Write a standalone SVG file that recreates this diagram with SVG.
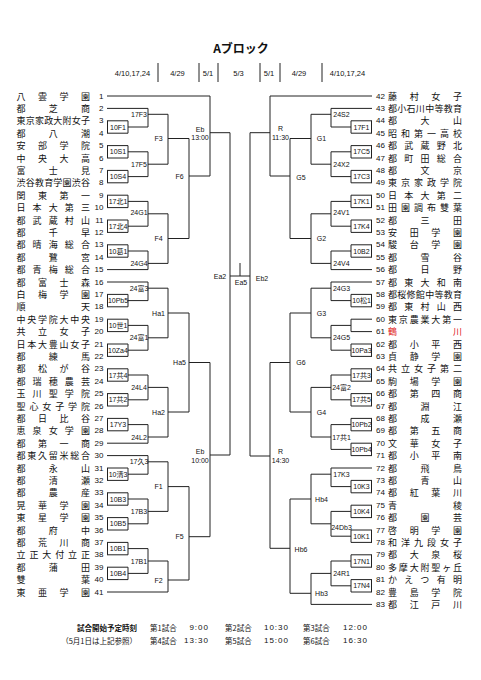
<svg xmlns="http://www.w3.org/2000/svg" width="481" height="680" viewBox="0 0 481 680">
<style>
.ln{fill:none;stroke:#222;stroke-width:1}
.nm{font-family:"Noto Sans CJK JP",sans-serif;font-size:9px;fill:#111;dominant-baseline:central}
.no{font-family:"Liberation Sans","Noto Sans CJK JP",sans-serif;font-size:8px;fill:#111;dominant-baseline:central}
.nl{text-anchor:end}
.lb{font-family:"Liberation Sans","Noto Sans CJK JP",sans-serif;font-size:7px;fill:#111;text-anchor:middle;dominant-baseline:central}
.hd{font-family:"Liberation Sans","Noto Sans CJK JP",sans-serif;font-size:7.5px;fill:#111;text-anchor:middle;dominant-baseline:central}
.ft{font-family:"Noto Sans CJK JP",sans-serif;font-size:7.5px;fill:#111;dominant-baseline:central}
.tm{font-family:"Liberation Sans",sans-serif;font-size:8px;fill:#111;dominant-baseline:central;text-anchor:end;letter-spacing:1px}
.red{fill:#e0201a}
</style>
<rect width="481" height="680" fill="#fff"/>
<g id="header">
<text x="241" y="53" font-family="'Noto Sans CJK JP',sans-serif" font-size="12" font-weight="bold" text-anchor="middle" fill="#111">Aブロック</text>
<text class="hd" x="132.5" y="73">4/10,17,24</text>
<text class="hd" x="177.5" y="73">4/29</text>
<text class="hd" x="208" y="73">5/1</text>
<text class="hd" x="238.5" y="73">5/3</text>
<text class="hd" x="269" y="73">5/1</text>
<text class="hd" x="299" y="73">4/29</text>
<text class="hd" x="347.5" y="73">4/10,17,24</text>
<path class="ln" d="M158,63V82M199,63V82M218,63V82M260,63V82M280,63V82M322,63V82" stroke-width="0.8"/>
</g>
<g id="connectors">
<path class="ln" d="M107,96H210M107,108.4H148M107,120.8H128M107,133.2H128M107,145.6H128M107,158H128M107,170.4H128M107,182.8H128M107,195.2H128M107,207.6H128M107,220H128M107,232.4H128M107,244.8H128M107,257.2H128M107,269.6H148M107,282H148M107,294.4H128M107,306.8H128M107,319.2H128M107,331.6H128M107,344H128M107,356.4H128M107,368.8H128M107,381.2H128M107,393.6H128M107,406H128M107,418.4H128M107,430.8H128M107,443.2H148M107,455.6H148M107,468H128M107,480.4H128M107,492.8H128M107,505.2H128M107,517.6H128M107,530H128M107,542.4H128M107,554.8H128M107,567.2H128M107,579.6H128M107,592H168"/>
<path class="ln" d="M107.5,120.8V133.2M107.5,145.6V158M107.5,170.4V182.8M107.5,195.2V207.6M107.5,220V232.4M107.5,244.8V257.2M107.5,294.4V306.8M107.5,319.2V331.6M107.5,344V356.4M107.5,368.8V381.2M107.5,393.6V406M107.5,418.4V430.8M107.5,468V480.4M107.5,492.8V505.2M107.5,517.6V530M107.5,542.4V554.8M107.5,567.2V579.6"/>
<path class="ln" d="M128,120.8V133.2M128,127H148M128,145.6V158M128,151.8H148M128,170.4V182.8M128,176.6H148M128,195.2V207.6M128,201.4H148M128,220V232.4M128,226.2H148M128,244.8V257.2M128,251H148M128,294.4V306.8M128,300.6H148M128,319.2V331.6M128,325.4H148M128,344V356.4M128,350.2H148M128,368.8V381.2M128,375H148M128,393.6V406M128,399.8H148M128,418.4V430.8M128,424.6H148M128,468V480.4M128,474.2H148M128,492.8V505.2M128,499H148M128,517.6V530M128,523.8H148M128,542.4V554.8M128,548.6H148M128,567.2V579.6M128,573.4H148"/>
<path class="ln" d="M148,108.4V127M148,114.3H168M148,151.8V176.6M148,164.2H168M148,201.4V226.2M148,213.8H168M148,251V269.6M148,263.4H168M148,282V300.6M148,288.2H168M148,325.4V350.2M148,337.8H168M148,375V399.8M148,387.4H168M148,424.6V443.2M148,437H168M148,455.6V474.2M148,461.8H168M148,499V523.8M148,511.4H168M148,548.6V573.4M148,561H168"/>
<path class="ln" d="M168,114.3V164.2M168,138.5H189M168,213.8V263.4M168,238.5H189M168,288.2V337.8M168,313H189M168,387.4V437M168,412H189M168,461.8V511.4M168,486.6H189M168,561V592M168,580H189"/>
<path class="ln" d="M189,138.5V238.5M189,176H210M189,313V412M189,362.5H210M189,486.6V580M189,536.7H210"/>
<path class="ln" d="M210,96V176M210,132.7H230M210,362.5V536.7M210,455H230M230,132.7V455M230,276H250M240,263V276"/>
<path class="ln" d="M372,96H270M372,108.4H331M372,120.8H351M372,133.2H351M372,145.6H351M372,158H351M372,170.4H351M372,182.8H351M372,195.2H351M372,207.6H351M372,220H351M372,232.4H351M372,244.8H351M372,257.2H351M372,269.6H331M372,282H331M372,294.4H351M372,306.8H351M372,319.2H351M372,331.6H351M372,344H351M372,356.4H351M372,368.8H351M372,381.2H351M372,393.6H351M372,406H351M372,418.4H351M372,430.8H351M372,443.2H351M372,455.6H351M372,468H331M372,480.4H351M372,492.8H351M372,505.2H351M372,517.6H351M372,530H351M372,542.4H351M372,554.8H351M372,567.2H351M372,579.6H351M372,592H351M372,604.4H311"/>
<path class="ln" d="M371.5,120.8V133.2M371.5,145.6V158M371.5,170.4V182.8M371.5,195.2V207.6M371.5,220V232.4M371.5,244.8V257.2M371.5,294.4V306.8M371.5,344V356.4M371.5,368.8V381.2M371.5,393.6V406M371.5,418.4V430.8M371.5,443.2V455.6M371.5,480.4V492.8M371.5,505.2V517.6M371.5,530V542.4M371.5,554.8V567.2M371.5,579.6V592"/>
<path class="ln" d="M351,120.8V133.2M351,127H331M351,145.6V158M351,151.8H331M351,170.4V182.8M351,176.6H331M351,195.2V207.6M351,201.4H331M351,220V232.4M351,226.2H331M351,244.8V257.2M351,251H331M351,294.4V306.8M351,300.6H331M351,319.2V331.6M351,325.4H331M351,344V356.4M351,350.2H331M351,368.8V381.2M351,375H331M351,393.6V406M351,399.8H331M351,418.4V430.8M351,424.6H331M351,443.2V455.6M351,449.4H331M351,480.4V492.8M351,486.6H331M351,505.2V517.6M351,511.4H331M351,530V542.4M351,536.2H331M351,554.8V567.2M351,561H331M351,579.6V592M351,585.8H331"/>
<path class="ln" d="M331,108.4V127M331,114.3H311M331,151.8V176.6M331,164.2H311M331,201.4V226.2M331,213.8H311M331,251V269.6M331,263.4H311M331,282V300.6M331,288.2H311M331,325.4V350.2M331,337.8H311M331,375V399.8M331,387.4H311M331,424.6V449.4M331,437H311M331,468V486.6M331,474.2H311M331,511.4V536.2M331,523.8H311M331,561V585.8M331,573.4H311"/>
<path class="ln" d="M311,114.3V164.2M311,138.5H290M311,213.8V263.4M311,238.5H290M311,288.2V337.8M311,313H290M311,387.4V437M311,412H290M311,474.2V523.8M311,499H290M311,573.4V604.4M311,593.3H290"/>
<path class="ln" d="M290,138.5V238.5M290,176H270M290,313V412M290,362.5H270M290,499V593.3M290,548.3H270"/>
<path class="ln" d="M270,96V176M270,132.7H250M270,362.5V548.3M270,456H250M250,132.7V456"/>
</g>
<g id="match-labels">
<g id="m-left-r1">
<text class="lb" x="118" y="127">10F1</text><text class="lb" x="118" y="151.8">10S1</text><text class="lb" x="118" y="176.6">10S4</text><text class="lb" x="118" y="201.4">17北1</text><text class="lb" x="118" y="226.2">17北4</text><text class="lb" x="118" y="251">10葛1</text><text class="lb" x="118" y="300.6">10Pb5</text><text class="lb" x="118" y="325.4">10世1</text><text class="lb" x="118" y="350.2">10Za4</text><text class="lb" x="118" y="375">17共4</text><text class="lb" x="118" y="399.8">17共2</text><text class="lb" x="118" y="424.6">17Y3</text><text class="lb" x="118" y="474.2">10清3</text><text class="lb" x="118" y="499">10B3</text><text class="lb" x="118" y="523.8">10B5</text><text class="lb" x="118" y="548.6">10B1</text><text class="lb" x="118" y="573.4">10B4</text>
</g>
<g id="m-left-r2">
<text class="lb" x="139" y="114.3">17F3</text><text class="lb" x="139" y="164.2">17F5</text><text class="lb" x="139" y="212">24G1</text><text class="lb" x="139" y="263.4">24G4</text><text class="lb" x="139" y="288.2">24富3</text><text class="lb" x="139" y="337.8">24富1</text><text class="lb" x="139" y="387.4">24L4</text><text class="lb" x="139" y="437">24L2</text><text class="lb" x="139" y="461.8">17久3</text><text class="lb" x="139" y="511.4">17B3</text><text class="lb" x="139" y="561">17B1</text>
</g>
<g id="m-left-r3">
<text class="lb" x="158.5" y="138.5">F3</text><text class="lb" x="158.5" y="238.5">F4</text><text class="lb" x="158.5" y="313">Ha1</text><text class="lb" x="158.5" y="412">Ha2</text><text class="lb" x="158.5" y="486.6">F1</text><text class="lb" x="158.5" y="580">F2</text>
</g>
<g id="m-left-r4">
<text class="lb" x="179.5" y="176">F6</text><text class="lb" x="179.5" y="362.5">Ha5</text><text class="lb" x="179.5" y="536.7">F5</text>
</g>
<g id="m-left-r5">
<text class="lb" x="200" y="129">Eb</text><text class="lb" x="200" y="137.5">13:00</text>
<text class="lb" x="200" y="451.5">Eb</text><text class="lb" x="200" y="460">10:00</text>
</g>
<g id="m-center">
<text class="lb" x="220" y="276">Ea2</text>
<text class="lb" x="241" y="282.5">Ea5</text>
<text class="lb" x="262" y="278">Eb2</text>
</g>
<g id="m-right-r1">
<text class="lb" x="361.5" y="127">17F1</text><text class="lb" x="361.5" y="151.8">17C5</text><text class="lb" x="361.5" y="176.6">17C3</text><text class="lb" x="361.5" y="201.4">17K1</text><text class="lb" x="361.5" y="226.2">17K4</text><text class="lb" x="361.5" y="251">10B2</text><text class="lb" x="361.5" y="300.6">10松1</text><text class="lb" x="361.5" y="350.2">10Pa3</text><text class="lb" x="361.5" y="375">17共3</text><text class="lb" x="361.5" y="399.8">17共5</text><text class="lb" x="361.5" y="424.6">10Pb2</text><text class="lb" x="361.5" y="449.4">10Pb4</text><text class="lb" x="361.5" y="486.6">10K3</text><text class="lb" x="361.5" y="511.4">10K4</text><text class="lb" x="361.5" y="536.2">10K1</text><text class="lb" x="361.5" y="561">17N1</text><text class="lb" x="361.5" y="585.8">17N4</text>
</g>
<g id="m-right-r2">
<text class="lb" x="341.5" y="114.3">24S2</text><text class="lb" x="341.5" y="164.2">24X2</text><text class="lb" x="341.5" y="212">24V1</text><text class="lb" x="341.5" y="263.4">24V4</text><text class="lb" x="341.5" y="288.2">24G3</text><text class="lb" x="341.5" y="337.8">24G5</text><text class="lb" x="341.5" y="387.4">24富2</text><text class="lb" x="341.5" y="437">17共1</text><text class="lb" x="341.5" y="474.2">17K3</text><text class="lb" x="341.5" y="527">24Db3</text><text class="lb" x="341.5" y="573.4">24R1</text>
</g>
<g id="m-right-r3">
<text class="lb" x="321.5" y="138.5">G1</text><text class="lb" x="321.5" y="238.5">G2</text><text class="lb" x="321.5" y="313">G3</text><text class="lb" x="321.5" y="412">G4</text><text class="lb" x="321.5" y="499">Hb4</text><text class="lb" x="321.5" y="593.3">Hb3</text>
</g>
<g id="m-right-r4">
<text class="lb" x="301" y="177">G5</text><text class="lb" x="301" y="362.5">G6</text><text class="lb" x="301" y="549">Hb6</text>
</g>
<g id="m-right-r5">
<text class="lb" x="280.5" y="128.5">R</text><text class="lb" x="280.5" y="137.5">11:30</text>
<text class="lb" x="280.5" y="451.5">R</text><text class="lb" x="280.5" y="460">14:30</text>
</g>
</g>
<g id="teams-left">
<g id="t1"><text class="nm" x="16.5" y="96" textLength="73.5" lengthAdjust="spacing">八雲学園</text><text class="no nl" x="103.5" y="96">1</text></g>
<g id="t2"><text class="nm" x="16.5" y="108.4" textLength="73.5" lengthAdjust="spacing">都芝商</text><text class="no nl" x="103.5" y="108.4">2</text></g>
<g id="t3"><text class="nm" x="16.5" y="120.8" textLength="73.5" lengthAdjust="spacing">東京家政大附女子</text><text class="no nl" x="103.5" y="120.8">3</text></g>
<g id="t4"><text class="nm" x="16.5" y="133.2" textLength="73.5" lengthAdjust="spacing">都八潮</text><text class="no nl" x="103.5" y="133.2">4</text></g>
<g id="t5"><text class="nm" x="16.5" y="145.6" textLength="73.5" lengthAdjust="spacing">安部学院</text><text class="no nl" x="103.5" y="145.6">5</text></g>
<g id="t6"><text class="nm" x="16.5" y="158" textLength="73.5" lengthAdjust="spacing">中央大高</text><text class="no nl" x="103.5" y="158">6</text></g>
<g id="t7"><text class="nm" x="16.5" y="170.4" textLength="73.5" lengthAdjust="spacing">富士見</text><text class="no nl" x="103.5" y="170.4">7</text></g>
<g id="t8"><text class="nm" x="16.5" y="182.8" textLength="73.5" lengthAdjust="spacing">渋谷教育学園渋谷</text><text class="no nl" x="103.5" y="182.8">8</text></g>
<g id="t9"><text class="nm" x="16.5" y="195.2" textLength="73.5" lengthAdjust="spacing">関東第一</text><text class="no nl" x="103.5" y="195.2">9</text></g>
<g id="t10"><text class="nm" x="16.5" y="207.6" textLength="73.5" lengthAdjust="spacing">日本大第三</text><text class="no nl" x="103.5" y="207.6">10</text></g>
<g id="t11"><text class="nm" x="16.5" y="220" textLength="73.5" lengthAdjust="spacing">都武蔵村山</text><text class="no nl" x="103.5" y="220">11</text></g>
<g id="t12"><text class="nm" x="16.5" y="232.4" textLength="73.5" lengthAdjust="spacing">都千早</text><text class="no nl" x="103.5" y="232.4">12</text></g>
<g id="t13"><text class="nm" x="16.5" y="244.8" textLength="73.5" lengthAdjust="spacing">都晴海総合</text><text class="no nl" x="103.5" y="244.8">13</text></g>
<g id="t14"><text class="nm" x="16.5" y="257.2" textLength="73.5" lengthAdjust="spacing">都鷺宮</text><text class="no nl" x="103.5" y="257.2">14</text></g>
<g id="t15"><text class="nm" x="16.5" y="269.6" textLength="73.5" lengthAdjust="spacing">都青梅総合</text><text class="no nl" x="103.5" y="269.6">15</text></g>
<g id="t16"><text class="nm" x="16.5" y="282" textLength="73.5" lengthAdjust="spacing">都富士森</text><text class="no nl" x="103.5" y="282">16</text></g>
<g id="t17"><text class="nm" x="16.5" y="294.4" textLength="73.5" lengthAdjust="spacing">白梅学園</text><text class="no nl" x="103.5" y="294.4">17</text></g>
<g id="t18"><text class="nm" x="16.5" y="306.8" textLength="73.5" lengthAdjust="spacing">順天</text><text class="no nl" x="103.5" y="306.8">18</text></g>
<g id="t19"><text class="nm" x="16.5" y="319.2" textLength="73.5" lengthAdjust="spacing">中央学院大中央</text><text class="no nl" x="103.5" y="319.2">19</text></g>
<g id="t20"><text class="nm" x="16.5" y="331.6" textLength="73.5" lengthAdjust="spacing">共立女子</text><text class="no nl" x="103.5" y="331.6">20</text></g>
<g id="t21"><text class="nm" x="16.5" y="344" textLength="73.5" lengthAdjust="spacing">日本大豊山女子</text><text class="no nl" x="103.5" y="344">21</text></g>
<g id="t22"><text class="nm" x="16.5" y="356.4" textLength="73.5" lengthAdjust="spacing">都練馬</text><text class="no nl" x="103.5" y="356.4">22</text></g>
<g id="t23"><text class="nm" x="16.5" y="368.8" textLength="73.5" lengthAdjust="spacing">都松が谷</text><text class="no nl" x="103.5" y="368.8">23</text></g>
<g id="t24"><text class="nm" x="16.5" y="381.2" textLength="73.5" lengthAdjust="spacing">都瑞穂農芸</text><text class="no nl" x="103.5" y="381.2">24</text></g>
<g id="t25"><text class="nm" x="16.5" y="393.6" textLength="73.5" lengthAdjust="spacing">玉川聖学院</text><text class="no nl" x="103.5" y="393.6">25</text></g>
<g id="t26"><text class="nm" x="16.5" y="406" textLength="73.5" lengthAdjust="spacing">聖心女子学院</text><text class="no nl" x="103.5" y="406">26</text></g>
<g id="t27"><text class="nm" x="16.5" y="418.4" textLength="73.5" lengthAdjust="spacing">都日比谷</text><text class="no nl" x="103.5" y="418.4">27</text></g>
<g id="t28"><text class="nm" x="16.5" y="430.8" textLength="73.5" lengthAdjust="spacing">恵泉女学園</text><text class="no nl" x="103.5" y="430.8">28</text></g>
<g id="t29"><text class="nm" x="16.5" y="443.2" textLength="73.5" lengthAdjust="spacing">都第一商</text><text class="no nl" x="103.5" y="443.2">29</text></g>
<g id="t30"><text class="nm" x="16.5" y="455.6" textLength="73.5" lengthAdjust="spacing">都東久留米総合</text><text class="no nl" x="103.5" y="455.6">30</text></g>
<g id="t31"><text class="nm" x="16.5" y="468" textLength="73.5" lengthAdjust="spacing">都永山</text><text class="no nl" x="103.5" y="468">31</text></g>
<g id="t32"><text class="nm" x="16.5" y="480.4" textLength="73.5" lengthAdjust="spacing">都清瀬</text><text class="no nl" x="103.5" y="480.4">32</text></g>
<g id="t33"><text class="nm" x="16.5" y="492.8" textLength="73.5" lengthAdjust="spacing">都農産</text><text class="no nl" x="103.5" y="492.8">33</text></g>
<g id="t34"><text class="nm" x="16.5" y="505.2" textLength="73.5" lengthAdjust="spacing">晃華学園</text><text class="no nl" x="103.5" y="505.2">34</text></g>
<g id="t35"><text class="nm" x="16.5" y="517.6" textLength="73.5" lengthAdjust="spacing">東星学園</text><text class="no nl" x="103.5" y="517.6">35</text></g>
<g id="t36"><text class="nm" x="16.5" y="530" textLength="73.5" lengthAdjust="spacing">都府中</text><text class="no nl" x="103.5" y="530">36</text></g>
<g id="t37"><text class="nm" x="16.5" y="542.4" textLength="73.5" lengthAdjust="spacing">都荒川商</text><text class="no nl" x="103.5" y="542.4">37</text></g>
<g id="t38"><text class="nm" x="16.5" y="554.8" textLength="73.5" lengthAdjust="spacing">立正大付立正</text><text class="no nl" x="103.5" y="554.8">38</text></g>
<g id="t39"><text class="nm" x="16.5" y="567.2" textLength="73.5" lengthAdjust="spacing">都蒲田</text><text class="no nl" x="103.5" y="567.2">39</text></g>
<g id="t40"><text class="nm" x="16.5" y="579.6" textLength="73.5" lengthAdjust="spacing">雙葉</text><text class="no nl" x="103.5" y="579.6">40</text></g>
<g id="t41"><text class="nm" x="16.5" y="592" textLength="73.5" lengthAdjust="spacing">東亜学園</text><text class="no nl" x="103.5" y="592">41</text></g>
</g>
<g id="teams-right">
<g id="t42"><text class="no" x="376" y="96">42</text><text class="nm" x="388" y="96" textLength="74" lengthAdjust="spacing">藤村女子</text></g>
<g id="t43"><text class="no" x="376" y="108.4">43</text><text class="nm" x="388" y="108.4" textLength="74" lengthAdjust="spacing">都小石川中等教育</text></g>
<g id="t44"><text class="no" x="376" y="120.8">44</text><text class="nm" x="388" y="120.8" textLength="74" lengthAdjust="spacing">都大山</text></g>
<g id="t45"><text class="no" x="376" y="133.2">45</text><text class="nm" x="388" y="133.2" textLength="74" lengthAdjust="spacing">昭和第一高校</text></g>
<g id="t46"><text class="no" x="376" y="145.6">46</text><text class="nm" x="388" y="145.6" textLength="74" lengthAdjust="spacing">都武蔵野北</text></g>
<g id="t47"><text class="no" x="376" y="158">47</text><text class="nm" x="388" y="158" textLength="74" lengthAdjust="spacing">都町田総合</text></g>
<g id="t48"><text class="no" x="376" y="170.4">48</text><text class="nm" x="388" y="170.4" textLength="74" lengthAdjust="spacing">都文京</text></g>
<g id="t49"><text class="no" x="376" y="182.8">49</text><text class="nm" x="388" y="182.8" textLength="74" lengthAdjust="spacing">東京家政学院</text></g>
<g id="t50"><text class="no" x="376" y="195.2">50</text><text class="nm" x="388" y="195.2" textLength="74" lengthAdjust="spacing">日本大第二</text></g>
<g id="t51"><text class="no" x="376" y="207.6">51</text><text class="nm" x="388" y="207.6" textLength="74" lengthAdjust="spacing">田園調布雙葉</text></g>
<g id="t52"><text class="no" x="376" y="220">52</text><text class="nm" x="388" y="220" textLength="74" lengthAdjust="spacing">都三田</text></g>
<g id="t53"><text class="no" x="376" y="232.4">53</text><text class="nm" x="388" y="232.4" textLength="74" lengthAdjust="spacing">安田学園</text></g>
<g id="t54"><text class="no" x="376" y="244.8">54</text><text class="nm" x="388" y="244.8" textLength="74" lengthAdjust="spacing">駿台学園</text></g>
<g id="t55"><text class="no" x="376" y="257.2">55</text><text class="nm" x="388" y="257.2" textLength="74" lengthAdjust="spacing">都雪谷</text></g>
<g id="t56"><text class="no" x="376" y="269.6">56</text><text class="nm" x="388" y="269.6" textLength="74" lengthAdjust="spacing">都日野</text></g>
<g id="t57"><text class="no" x="376" y="282">57</text><text class="nm" x="388" y="282" textLength="74" lengthAdjust="spacing">都東大和南</text></g>
<g id="t58"><text class="no" x="376" y="294.4">58</text><text class="nm" x="388" y="294.4" textLength="74" lengthAdjust="spacing">都桜修館中等教育</text></g>
<g id="t59"><text class="no" x="376" y="306.8">59</text><text class="nm" x="388" y="306.8" textLength="74" lengthAdjust="spacing">都東村山西</text></g>
<g id="t60"><text class="no" x="376" y="319.2">60</text><text class="nm" x="388" y="319.2" textLength="74" lengthAdjust="spacing">東京農業大第一</text></g>
<g id="t61"><text class="no" x="376" y="331.6">61</text><text class="nm red" x="388" y="331.6" textLength="74" lengthAdjust="spacing">鶴川</text></g>
<g id="t62"><text class="no" x="376" y="344">62</text><text class="nm" x="388" y="344" textLength="74" lengthAdjust="spacing">都小平西</text></g>
<g id="t63"><text class="no" x="376" y="356.4">63</text><text class="nm" x="388" y="356.4" textLength="74" lengthAdjust="spacing">貞静学園</text></g>
<g id="t64"><text class="no" x="376" y="368.8">64</text><text class="nm" x="388" y="368.8" textLength="74" lengthAdjust="spacing">共立女子第二</text></g>
<g id="t65"><text class="no" x="376" y="381.2">65</text><text class="nm" x="388" y="381.2" textLength="74" lengthAdjust="spacing">駒場学園</text></g>
<g id="t66"><text class="no" x="376" y="393.6">66</text><text class="nm" x="388" y="393.6" textLength="74" lengthAdjust="spacing">都第四商</text></g>
<g id="t67"><text class="no" x="376" y="406">67</text><text class="nm" x="388" y="406" textLength="74" lengthAdjust="spacing">都淵江</text></g>
<g id="t68"><text class="no" x="376" y="418.4">68</text><text class="nm" x="388" y="418.4" textLength="74" lengthAdjust="spacing">都成瀬</text></g>
<g id="t69"><text class="no" x="376" y="430.8">69</text><text class="nm" x="388" y="430.8" textLength="74" lengthAdjust="spacing">都第五商</text></g>
<g id="t70"><text class="no" x="376" y="443.2">70</text><text class="nm" x="388" y="443.2" textLength="74" lengthAdjust="spacing">文華女子</text></g>
<g id="t71"><text class="no" x="376" y="455.6">71</text><text class="nm" x="388" y="455.6" textLength="74" lengthAdjust="spacing">都小平南</text></g>
<g id="t72"><text class="no" x="376" y="468">72</text><text class="nm" x="388" y="468" textLength="74" lengthAdjust="spacing">都飛鳥</text></g>
<g id="t73"><text class="no" x="376" y="480.4">73</text><text class="nm" x="388" y="480.4" textLength="74" lengthAdjust="spacing">都青山</text></g>
<g id="t74"><text class="no" x="376" y="492.8">74</text><text class="nm" x="388" y="492.8" textLength="74" lengthAdjust="spacing">都紅葉川</text></g>
<g id="t75"><text class="no" x="376" y="505.2">75</text><text class="nm" x="388" y="505.2" textLength="74" lengthAdjust="spacing">青稜</text></g>
<g id="t76"><text class="no" x="376" y="517.6">76</text><text class="nm" x="388" y="517.6" textLength="74" lengthAdjust="spacing">都園芸</text></g>
<g id="t77"><text class="no" x="376" y="530">77</text><text class="nm" x="388" y="530" textLength="74" lengthAdjust="spacing">啓明学園</text></g>
<g id="t78"><text class="no" x="376" y="542.4">78</text><text class="nm" x="388" y="542.4" textLength="74" lengthAdjust="spacing">和洋九段女子</text></g>
<g id="t79"><text class="no" x="376" y="554.8">79</text><text class="nm" x="388" y="554.8" textLength="74" lengthAdjust="spacing">都大泉桜</text></g>
<g id="t80"><text class="no" x="376" y="567.2">80</text><text class="nm" x="388" y="567.2" textLength="74" lengthAdjust="spacing">多摩大附聖ヶ丘</text></g>
<g id="t81"><text class="no" x="376" y="579.6">81</text><text class="nm" x="388" y="579.6" textLength="74" lengthAdjust="spacing">かえつ有明</text></g>
<g id="t82"><text class="no" x="376" y="592">82</text><text class="nm" x="388" y="592" textLength="74" lengthAdjust="spacing">豊島学院</text></g>
<g id="t83"><text class="no" x="376" y="604.4">83</text><text class="nm" x="388" y="604.4" textLength="74" lengthAdjust="spacing">都江戸川</text></g>
</g>
<g id="footer">
<text class="ft" x="137" y="627" text-anchor="end" font-weight="bold">試合開始予定時刻</text>
<text class="ft" x="137" y="640" text-anchor="end">（5月1日は上記参照）</text>
<text class="ft" x="150" y="627">第1試合</text><text class="tm" x="209" y="627">9:00</text>
<text class="ft" x="225" y="627">第2試合</text><text class="tm" x="289" y="627">10:30</text>
<text class="ft" x="303" y="627">第3試合</text><text class="tm" x="368" y="627">12:00</text>
<text class="ft" x="150" y="640">第4試合</text><text class="tm" x="209" y="640">13:30</text>
<text class="ft" x="225" y="640">第5試合</text><text class="tm" x="289" y="640">15:00</text>
<text class="ft" x="303" y="640">第6試合</text><text class="tm" x="368" y="640">16:30</text>
</g>
</svg>
